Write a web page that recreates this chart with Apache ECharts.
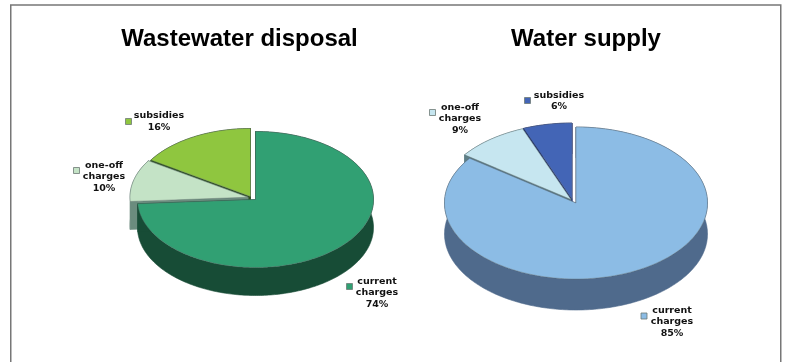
<!DOCTYPE html>
<html>
<head>
<meta charset="utf-8">
<style>html,body{margin:0;padding:0;background:#fff}#chart{width:787px;height:362px}</style>
<script src="https://cdn.jsdelivr.net/npm/echarts@6/dist/echarts.min.js"></script>
</head>
<body>
<div id="chart"></div>
<script>
// Funding sources, listed in drawing order (back slices first).
const categories = ['subsidies', 'one-off\ncharges', 'current\ncharges'];
const wastewaterShares = [16, 10, 74];
const waterSupplyShares = [6, 9, 85];
const chartTitles = ['Wastewater disposal', 'Water supply'];

// Tilted pie geometry: each slice has its own pulled-out centre.
const wastewaterPie = {
  rx: 118, ry: 68, depth: 28,
  centers: [[250.5, 196.5], [248, 197.2], [255.5, 199.5]],
  top: ['#8FC63F', '#C4E3C6', '#31A073'],
  side: ['#2C4F1E', '#6B8C7E', '#174C36'],
  labels: [[159, 121.5], [104, 177], [377, 293]],
  markers: [[128.5, 121.5], [76.5, 170.5], [349.5, 286.5]]
};
const waterSupplyPie = {
  rx: 131.5, ry: 76, depth: 31,
  centers: [[572, 199], [571, 199.5], [576, 203]],
  top: ['#4365B6', '#C6E6F0', '#8CBCE5'],
  side: ['#14206A', '#5E7F86', '#4F6A8C'],
  labels: [[559, 101], [460, 119], [672, 322]],
  markers: [[527.5, 100.5], [432.5, 112.5], [644, 316]]
};

const labelFont = { fontFamily: 'DejaVu Sans', fontWeight: 'bold', fontSize: 9.5, lineHeight: 11.7 };
const outline = 'rgba(90,100,100,0.6)';

function rimPoint(layout, center, angleDeg, dy) {
  const t = angleDeg * Math.PI / 180;
  return [center[0] + layout.rx * Math.sin(t), center[1] - layout.ry * Math.cos(t) + (dy || 0)];
}

// Builds one slice: walls, top face, legend square and text.
function sliceRenderer(shares, layout) {
  return function (params, api) {
    const i = params.dataIndex;
    const share = api.value(1);
    const total = shares.reduce((a, b) => a + b, 0);
    const before = shares.slice(0, i).reduce((a, b) => a + b, 0);
    const a0 = -before / total * 360;
    const a1 = -(before + share) / total * 360;
    const c = layout.centers[i];
    const arc = [];
    const steps = Math.max(8, Math.ceil(Math.abs(a1 - a0)));
    for (let s = 0; s <= steps; s++) arc.push(rimPoint(layout, c, a0 + (a1 - a0) * s / steps));
    const shift = p => [p[0], p[1] + layout.depth];
    const wallStyle = { fill: layout.side[i], stroke: layout.side[i], lineWidth: 0.6 };
    const quad = (p, q) => ({ type: 'polygon', shape: { points: [p, q, shift(q), shift(p)] }, style: wallStyle });
    return {
      type: 'group',
      children: [
        { type: 'polygon', shape: { points: arc.concat(arc.map(shift).reverse()) }, style: wallStyle },
        quad(c, arc[0]),
        quad(c, arc[arc.length - 1]),
        { type: 'polygon', shape: { points: [c].concat(arc) },
          style: { fill: layout.top[i], stroke: outline, lineWidth: 0.6 } },
        { type: 'rect',
          shape: { x: layout.markers[i][0] - 3, y: layout.markers[i][1] - 3, width: 6, height: 6 },
          style: { fill: layout.top[i], stroke: '#6d7a75', lineWidth: 0.8 } },
        { type: 'text',
          style: Object.assign({
            x: layout.labels[i][0], y: layout.labels[i][1],
            text: categories[i] + '\n' + share + '%',
            align: 'center', verticalAlign: 'middle', fill: '#111'
          }, labelFont) }
      ]
    };
  };
}

function pieSeries(name, shares, layout) {
  return {
    type: 'custom',
    name: name,
    coordinateSystem: 'none',
    silent: true,
    animation: false,
    data: shares.map((v, i) => [i, v]),
    renderItem: sliceRenderer(shares, layout)
  };
}

const chart = echarts.init(document.getElementById('chart'), null, { renderer: 'canvas' });
chart.setOption({
  backgroundColor: '#fff',
  animation: false,
  title: chartTitles.map((text, i) => ({
    text: text,
    left: [239.5, 586][i],
    top: 25,
    textAlign: 'center',
    padding: 0,
    textStyle: { fontFamily: 'Liberation Sans', fontWeight: 'bold', fontSize: 24, color: '#000', lineHeight: 28 }
  })),
  graphic: [{
    type: 'rect', silent: true, z: -1,
    shape: { x: 10.75, y: 5, width: 770, height: 370 },
    style: { fill: 'none', stroke: '#777', lineWidth: 1.5 }
  }],
  series: [
    pieSeries(chartTitles[0], wastewaterShares, wastewaterPie),
    pieSeries(chartTitles[1], waterSupplyShares, waterSupplyPie)
  ]
});
</script>
</body>
</html>
